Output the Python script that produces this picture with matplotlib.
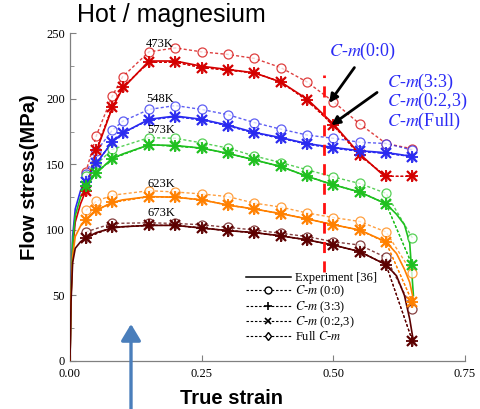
import numpy as np
import matplotlib
matplotlib.use('Agg')
import matplotlib.pyplot as plt
from matplotlib.lines import Line2D

plt.rcParams['font.family'] = 'Liberation Serif'
plt.rcParams['mathtext.fontset'] = 'stix'

# Points where the model markers sit (true strain)
strain = [0.03, 0.05, 0.08, 0.10, 0.15, 0.20, 0.25, 0.30, 0.35, 0.40, 0.45, 0.50, 0.55, 0.60, 0.65]
nan = np.nan

# C-m (0:0) -> open circles
cm00_473 = [144, 172, 202, 217, 236, 239, 236, 234, 231, 224, 213, 198, 181, 166, 162]
cm00_548 = [143, 160, 176, 183, 192, 195, 192, 188, 182, 177, 172.5, 170, 167, 166, 161]
cm00_573 = [141, 150, 161.5, nan, 170.5, 170, 166.5, 162.5, 156.5, 151.5, 146, 140.5, 135.5, 128, 94]
cm00_623 = [115, 122, 126.5, nan, 130, 129, 127.5, 125.5, 120.5, 117.5, 113, 109.5, 106.5, 98.5, 67]
cm00_673 = [98.5, nan, 105, nan, 105.5, 105, 104, 102, 100, 97.5, 95, 91, 88.5, 79, 39.5]

# C-m (3:3), C-m (0:2,3), Full C-m -> practically on top of each other
fit_473 = [130, 161, 194, 209, 228, 228, 224, 222, 220, 213, 199, 180, 157, 141, 141]
fit_548 = [137, 151, 167, 174, 184, 186.5, 184, 179.5, 174, 170, 165.5, 162.5, 160, 158.5, 156]
fit_573 = [133.5, 143.5, 154.5, nan, 165, 164, 162.5, 158.5, 153.5, 148.5, 141, 134.5, 129, 120, 73]
fit_623 = [108, 115, 121, nan, 125.5, 125, 123, 119, 116, 112.5, 108.5, 104, 100, 90.5, 45]
fit_673 = [94, nan, 102, nan, 103.5, 103.5, 101.5, 99.5, 98, 95.5, 92.5, 88.5, 83.5, 73.5, 15.5]

# Experiment [36]
exp_strain = [0, 0.002, 0.005, 0.01, 0.02, 0.03, 0.05, 0.08, 0.10, 0.15, 0.20, 0.25,
              0.30, 0.35, 0.40, 0.45, 0.50, 0.55, 0.60, 0.62, 0.635, 0.645, 0.652]
exp_473 = [0, 50, 85, 106, 120, 130, 160, 193, 208, 229, 229, 225,
           222.5, 220, 213, 200, 181, 158, 140, nan, nan, nan, nan]
exp_548 = [0, 55, 95, 116, 130, 138, 151, 167, 174, 184.5, 187, 184.5,
           180, 174.5, 170.5, 166, 163, 160.5, 159, 158, 157, 157, 156]
exp_573 = [0, 50, 90, 111, 125, 133, 143.5, 154.5, 158, 165, 164.5, 162.5,
           158.5, 153.5, 148.5, 141, 134.5, 129, 120, 112, 104, 90, 50]
exp_623 = [0, 50, 80, 95, 103, 108, 115, 121, 123, 125.5, 125, 123,
           119, 116, 112.5, 108.5, 104, 100, 91, 82, 70, 60, 47]
exp_673 = [0, 45, 75, 86, 91, 94, 98, 101.5, 102.5, 103.5, 103.5, 101.5,
           99.5, 98, 95.5, 92.5, 88.5, 83.5, 73.5, 65, 50, 32, 15]

temps = ['473K', '548K', '573K', '623K', '673K']
colors = ['#d40000', '#2a2af0', '#1fc01f', '#ff8000', '#5c0000']
label_xy = [(0.17, 242), (0.172, 200), (0.174, 176), (0.174, 135), (0.174, 113)]

cm00_all = [cm00_473, cm00_548, cm00_573, cm00_623, cm00_673]
fit_all = [fit_473, fit_548, fit_573, fit_623, fit_673]
exp_all = [exp_473, exp_548, exp_573, exp_623, exp_673]

fig = plt.figure(figsize=(4.8, 4.09), dpi=100)
ax = fig.add_axes([0.1458, 0.1174, 0.823, 0.8007])

dash = (0, (2.2, 1.6))
xs = np.array(strain)
xe = np.array(exp_strain)
for c, e, m00, fit, t, (tx, ty) in zip(colors, exp_all, cm00_all, fit_all, temps, label_xy):
    e = np.array(e, float)
    ok = ~np.isnan(e)
    ax.plot(xe[ok], e[ok], '-', color=c, lw=1.2, zorder=3)

    m00 = np.array(m00, float)
    ok = ~np.isnan(m00)
    ax.plot(xs[ok], m00[ok], color=c, ls=dash, lw=1.0, alpha=0.75,
            marker='o', ms=6.5, mfc='white', mec=c, mew=0.9, zorder=4)

    fit = np.array(fit, float)
    ok = ~np.isnan(fit)
    ax.plot(xs[ok], fit[ok], color=c, ls=dash, lw=0.9, marker='+', ms=8, mew=1.3, zorder=5)
    ax.plot(xs[ok], fit[ok], color=c, ls=dash, lw=0.9, marker='x', ms=6.5, mew=1.6, zorder=5)
    ax.plot(xs[ok], fit[ok], color=c, ls='none', marker='d', ms=5, mfc='none',
            mec=c, mew=0.8, alpha=0.6, zorder=5)

    ax.text(tx, ty, t, fontsize=9, ha='center', va='center', zorder=6)

# red dashed reference line and callouts
ax.plot([0.483, 0.483], [68, 218], color='#ff1010', ls=(0, (4, 3)), lw=2, zorder=6)
ax.annotate('', xy=(0.492, 197), xytext=(0.54, 224),
            arrowprops=dict(arrowstyle='-|>,head_length=0.5,head_width=0.25',
                            color='black', lw=2, shrinkA=0, shrinkB=0), zorder=7)
ax.annotate('', xy=(0.496, 180), xytext=(0.583, 205),
            arrowprops=dict(arrowstyle='-|>,head_length=0.5,head_width=0.25',
                            color='black', lw=2, shrinkA=0, shrinkB=0), zorder=7)
blue = '#2b2bf5'
ax.text(0.555, 236, '$C$-$m$(0:0)', color=blue, fontsize=13, ha='center', va='center')
ax.text(0.602, 213, '$C$-$m$(3:3)', color=blue, fontsize=13, ha='left', va='center')
ax.text(0.602, 198, '$C$-$m$(0:2,3)', color=blue, fontsize=13, ha='left', va='center')
ax.text(0.602, 183, '$C$-$m$(Full)', color=blue, fontsize=13, ha='left', va='center')

# legend (black proxies)
handles = [
    Line2D([], [], color='black', lw=1.1),
    Line2D([], [], color='black', ls=dash, lw=0.8, marker='o', ms=5, mfc='white'),
    Line2D([], [], color='black', ls=dash, lw=0.8, marker='+', ms=6, mew=1.2),
    Line2D([], [], color='black', ls=dash, lw=0.8, marker='x', ms=5, mew=1.2),
    Line2D([], [], color='black', ls=dash, lw=0.8, marker='d', ms=4.5, mfc='white'),
]
labels = ['Experiment [36]', '$C$-$m$ (0:0)', '$C$-$m$ (3:3)', '$C$-$m$ (0:2,3)', 'Full $C$-$m$']
ax.legend(handles, labels, loc='upper left', bbox_to_anchor=(0.445, 0.272), frameon=False,
          fontsize=9, handlelength=3.6, handletextpad=0.3, labelspacing=0.0,
          borderpad=0, borderaxespad=0, numpoints=1)

ax.set_xlim(0, 0.75)
ax.set_ylim(0, 250)
ax.set_xticks([0, 0.25, 0.5, 0.75])
ax.set_xticklabels(['0.00', '0.25', '0.50', '0.75'])
ax.set_yticks([0, 50, 100, 150, 200, 250])
ax.set_yticks(np.arange(25, 250, 50), minor=True)
ax.tick_params(direction='in', length=4, width=0.8, color='#808080', labelsize=9)
ax.tick_params(axis='y', which='minor', direction='in', length=3, color='#808080')
ax.tick_params(axis='x', pad=5)
for s in ['top', 'right']:
    ax.spines[s].set_visible(False)
for s in ['left', 'bottom']:
    ax.spines[s].set_color('#808080')
    ax.spines[s].set_linewidth(0.9)

ax.set_xlabel('True strain', fontsize=14.5, fontweight='bold', family='Liberation Sans')
ax.xaxis.set_label_coords(0.41, -0.085)
ax.set_ylabel('Flow stress(MPa)', fontsize=14.5, fontweight='bold', family='Liberation Sans')
ax.yaxis.set_label_coords(-0.078, 0.562)
fig.text(0.16, 0.963, 'Hot / magnesium', fontsize=18, family='Liberation Sans', va='center')

# blue arrow at the bottom
fig.add_artist(matplotlib.patches.FancyArrowPatch(
    (131 / 480, 0.0), (131 / 480, 1 - 324 / 409), transform=fig.transFigure,
    arrowstyle='-|>,head_length=10,head_width=6', color='#4a7ebb', lw=2.4,
    shrinkA=0, shrinkB=0, mutation_scale=1))

fig.savefig('out.png', dpi=100)
